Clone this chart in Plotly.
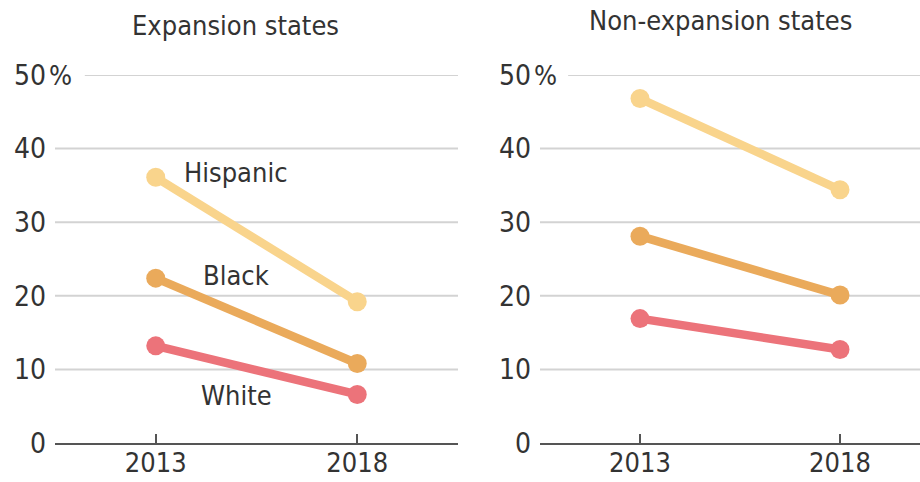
import plotly.graph_objects as go

years = [2013, 2018]
groups = ["Hispanic", "Black", "White"]
colors = {"Hispanic": "#F9D48C", "Black": "#EAAA5B", "White": "#EC737A"}

expansion = {
    "Hispanic": [36.1, 19.2],
    "Black": [22.4, 10.8],
    "White": [13.2, 6.6],
}
non_expansion = {
    "Hispanic": [46.8, 34.4],
    "Black": [28.1, 20.1],
    "White": [16.9, 12.7],
}
panel_titles = ["Expansion states", "Non-expansion states"]
y_ticks = [0, 10, 20, 30, 40, 50]
y_ticktext = ["0", "10", "20", "30", "40", "50"]
label_x = 2015
label_y = {"Hispanic": 36.8, "Black": 22.8, "White": 6.5}

FONT = "Liberation Sans Narrow, DejaVu Sans Condensed, sans-serif"
TEXT = "#333333"
W, H = 920, 482
ML, MR, MT, MB = 55, 0, 75, 39
PW = W - ML - MR


def px(x):
    return (x - ML) / PW


fig = go.Figure()

for i, data in enumerate([expansion, non_expansion]):
    xa = "x" if i == 0 else "x2"
    ya = "y" if i == 0 else "y2"
    for g in groups:
        fig.add_trace(go.Scatter(
            x=years, y=data[g], mode="lines+markers",
            line=dict(color=colors[g], width=8.5),
            marker=dict(color=colors[g], size=19),
            xaxis=xa, yaxis=ya, showlegend=False, cliponaxis=False,
            hoverinfo="skip",
        ))

# gridlines as shapes so the top one can start after the "%" sign
for i in range(2):
    xd = "x domain" if i == 0 else "x2 domain"
    yr = "y" if i == 0 else "y2"
    for v in y_ticks[1:]:
        fig.add_shape(type="line", xref=xd, yref=yr,
                      x0=0.074 if v == 50 else 0, x1=1, y0=v, y1=v,
                      line=dict(color="#D3D3D3", width=2), layer="below")
    fig.add_annotation(xref=xd, yref=yr, x=0, y=50, text="%",
                       showarrow=False, xanchor="left", yanchor="middle",
                       xshift=-8, font=dict(family=FONT, size=27, color=TEXT))

tick_font = dict(family=FONT, size=28, color=TEXT)
xtick_font = dict(family=FONT, size=27, color=TEXT)
axis_common = dict(showgrid=False, zeroline=False, automargin=False)
xaxis_common = dict(showline=True, linecolor="#555555", linewidth=2,
                    ticks="inside", ticklen=9, tickwidth=2,
                    tickcolor="#555555", ticklabelstandoff=-5,
                    tickvals=years, tickfont=xtick_font, **axis_common)
fig.update_layout(
    width=W, height=H,
    margin=dict(l=ML, r=MR, t=MT, b=MB),
    paper_bgcolor="white", plot_bgcolor="white",
    xaxis=dict(domain=[0, px(458)], range=[2010.5, 2020.5], **xaxis_common),
    xaxis2=dict(domain=[px(540), 1], range=[2010.5, 2020.0], **xaxis_common),
    yaxis=dict(range=[0, 50], tickvals=y_ticks, ticktext=y_ticktext,
               ticklabelstandoff=8, tickfont=tick_font, **axis_common),
    yaxis2=dict(range=[0, 50], tickvals=y_ticks, ticktext=y_ticktext,
                anchor="x2", ticklabelstandoff=8, tickfont=tick_font,
                **axis_common),
)

# panel titles
fig.add_annotation(xref="paper", yref="paper", x=px(235), y=1, yshift=50,
                   text=panel_titles[0], showarrow=False, xanchor="center",
                   yanchor="middle", font=dict(family=FONT, size=27, color=TEXT))
fig.add_annotation(xref="paper", yref="paper", x=px(720), y=1, yshift=55,
                   text=panel_titles[1], showarrow=False, xanchor="center",
                   yanchor="middle", font=dict(family=FONT, size=27, color=TEXT))

# series labels in the left panel
for g in groups:
    fig.add_annotation(x=label_x, y=label_y[g], xref="x", yref="y", text=g,
                       showarrow=False, xanchor="center", yanchor="middle",
                       font=dict(family=FONT, size=27, color=TEXT))

fig.write_html("out.html")
